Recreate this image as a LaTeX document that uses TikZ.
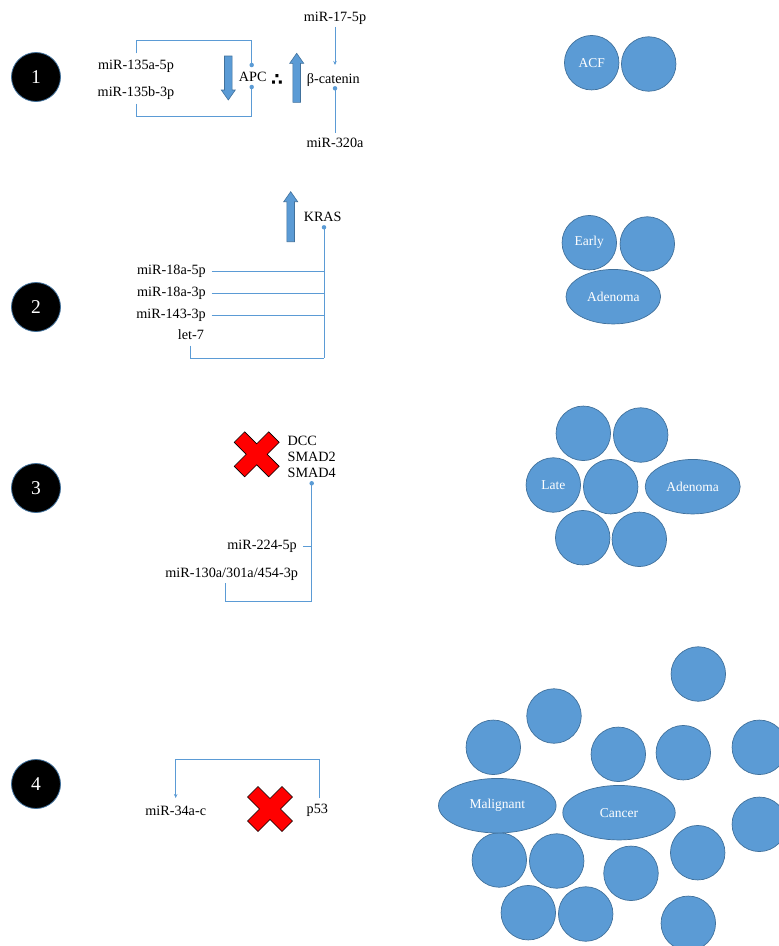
\documentclass[tikz,border=0pt]{standalone}
\usepackage{fontspec}
\setmainfont{Liberation Serif}
\newfontfamily\symfont{DejaVu Sans}
\usetikzlibrary{shapes.geometric,arrows.meta}
\definecolor{cellblue}{HTML}{5B9BD5}
\definecolor{celledge}{HTML}{41719C}
\definecolor{linkblue}{HTML}{5B9BD5}
\tikzset{
  crossfill/.style={fill=red, draw=black, line width=0.6bp},
  nocross/.pic={\path[crossfill] (0,10.5) -- (12,22.5) -- (22.5,12) -- (10.5,0) -- (22.5,-12) -- (12,-22.5)
      -- (0,-10.5) -- (-12,-22.5) -- (-22.5,-12) -- (-10.5,0) -- (-22.5,12) -- (-12,22.5) -- cycle;},
}
\begin{document}
\begin{tikzpicture}[x=1bp,y=-1bp,
  lbl/.style={font=\fontsize{14.2bp}{17bp}\selectfont, inner sep=0pt},
  stage/.style={circle, fill=black, draw=celledge, line width=0.8bp, minimum size=49bp,
    inner sep=0pt, text=white, font=\fontsize{19.5bp}{22bp}\selectfont},
  cell/.style={circle, fill=cellblue, draw=celledge, line width=0.7bp, minimum size=54.5bp,
    inner sep=0pt, text=white, font=\fontsize{13.5bp}{16bp}\selectfont},
  blob/.style={ellipse, fill=cellblue, draw=celledge, line width=0.7bp, minimum height=54.5bp,
    inner sep=0pt, text=white, font=\fontsize{13.5bp}{16bp}\selectfont},
  wire/.style={draw=linkblue, line width=0.8bp},
  joint/.style={circle, fill=linkblue, inner sep=0pt, minimum size=4.5bp},
  headend/.style={-{Stealth[length=4bp,width=3.5bp]}},
  bigarrow/.style={fill=cellblue, draw=celledge, line width=0.6bp},
]
\path[use as bounding box] (0,0) rectangle (779,946);
\clip (0,0) rectangle (779,946);

% stage markers
\node[stage] (s1) at (36,77) {1};
\node[stage] (s2) at (36,307) {2};
\node[stage] (s3) at (36,488) {3};
\node[stage] (s4) at (36,784) {4};

% ---- stage 1: APC / beta-catenin
\node[lbl] (m135a) at (136,66.7) {miR-135a-5p};
\node[lbl] (m135b) at (136,92.7) {miR-135b-3p};
\node[lbl] (apc) at (252.7,77.3) {APC};
\node[lbl, font=\symfont\bfseries\fontsize{17bp}{19bp}\selectfont] (thf) at (277,80) {∴};
\node[lbl] (bcat) at (333.3,80) {β-catenin};
\node[lbl] (m17) at (335,18.3) {miR-17-5p};
\node[lbl] (m320) at (335,143.3) {miR-320a};
\coordinate (apcT) at (251.7,65);
\coordinate (apcB) at (251.7,87);
\coordinate (bcatT) at (335,65);
\coordinate (bcatB) at (335,88.3);

\path[bigarrow] (224.5,56) -- (232.1,56) -- (232.1,90) -- (235.3,90) -- (228.3,100)
  -- (221.3,90) -- (224.5,90) -- cycle;
\path[bigarrow] (296.7,53.3) -- (303.7,63.3) -- (300.5,63.3) -- (300.5,102.3)
  -- (292.9,102.3) -- (292.9,63.3) -- (289.7,63.3) -- cycle;

\draw[wire] ([yshift=7bp]m135a.north) |- ([yshift=24.3bp]apcT) -- (apcT);
\draw[wire] ([yshift=-4.4bp]m135b.south) |- ([yshift=-29bp]apcB) -- (apcB);
\node[joint] (apcTd) at (apcT) {};
\node[joint] (apcBd) at (apcB) {};
\draw[wire, headend] ([yshift=-2bp]m17.south) -- (bcatT);
\draw[wire] (bcatB) -- ([yshift=5bp]m320.north);
\node[joint] (bcatBd) at (bcatB) {};

% ---- stage 2: KRAS
\path[bigarrow] (290.7,191.7) -- (297.7,201.7) -- (294.5,201.7) -- (294.5,241.7)
  -- (286.9,241.7) -- (286.9,201.7) -- (283.7,201.7) -- cycle;
\node[lbl] (kras) at (322.7,217.3) {KRAS};
\coordinate (krasD) at (324,227.3);
\node[lbl, anchor=east] (m18a5) at (206,271.3) {miR-18a-5p};
\node[lbl, anchor=east] (m18a3) at (206,293.5) {miR-18a-3p};
\node[lbl, anchor=east] (m143) at (206,315.7) {miR-143-3p};
\node[lbl] (let7) at (191,335) {let-7};
\coordinate (bus2) at (324,358.3);
\draw[wire] (krasD) -- (bus2);
\draw[wire] ([xshift=5.7bp]m18a5.east) -- (m18a5.east -| krasD);
\draw[wire] ([xshift=5.7bp]m18a3.east) -- (m18a3.east -| krasD);
\draw[wire] ([xshift=5.7bp]m143.east) -- (m143.east -| krasD);
\draw[wire] ([xshift=-0.7bp,yshift=-5.3bp]let7.south) |- (bus2);
\node[joint] (krasDd) at (krasD) {};

% ---- stage 3: DCC / SMAD2 / SMAD4
\pic at (256.7,454.3) {nocross};
\node[lbl, anchor=west, align=left, font=\fontsize{14.2bp}{16bp}\selectfont] (dcc)
  at (287.5,456.7) {DCC\\SMAD2\\SMAD4};
\coordinate (dccD) at (311.7,483.3);
\node[lbl, anchor=east] (m224) at (297,546) {miR-224-5p};
\node[lbl] (m130) at (231.7,574) {miR-130a/301a/454-3p};
\coordinate (bus3) at (311.7,601.7);
\draw[wire] (dccD) -- (bus3);
\draw[wire] ([xshift=6.3bp]m224.east) -- (m224.east -| dccD);
\draw[wire] ([xshift=-6.7bp,yshift=-3bp]m130.south) |- (bus3);
\node[joint] (dccDd) at (dccD) {};

% ---- stage 4: p53
\node[lbl] (m34) at (175.7,810.7) {miR-34a-c};
\node[lbl] (p53) at (317.3,810.7) {p53};
\pic at (270,809) {nocross};
\draw[wire, headend] ([xshift=1.7bp,yshift=6bp]p53.north) -- ++(0,-39.3)
  -| ([yshift=7.7bp]m34.north);

% ---- cell clusters
\node[cell] (acf) at (591.7,62.7) {ACF};
\node[cell] (c1b) at (648.7,64) {};

\node[cell] (early) at (589.3,242.7) {Early};
\node[cell] (c2b) at (647.3,244) {};
\node[blob, minimum width=94.6bp] (aden2) at (613.3,296.7) {Adenoma};

\node[cell] (late) at (553.3,485) {Late};
\foreach \p [count=\i] in {(583.3,433.3),(640.7,435),(610.7,486.7),(582.7,537.7),(639.3,539.3)}
  \node[cell] (c3-\i) at \p {};
\node[blob, minimum width=95bp] (aden3) at (692.7,486.7) {Adenoma};

\foreach \p [count=\i] in {(698.3,674),(554,716),(493.3,747.3),(618.3,754.3),(683.3,752.7),
    (759.3,747.3),(759.3,824.3),(499.3,860),(556.7,861),(631,873.3),(697.7,852.7),
    (528.3,912.7),(585.7,914),(688.3,923.3)}
  \node[cell] (c4-\i) at \p {};
\node[blob, minimum width=117.6bp] (malig) at (497.3,805.7) {Malignant};
\node[blob, minimum width=112.4bp] (cancer) at (619,812.7) {Cancer};
\end{tikzpicture}
\end{document}
